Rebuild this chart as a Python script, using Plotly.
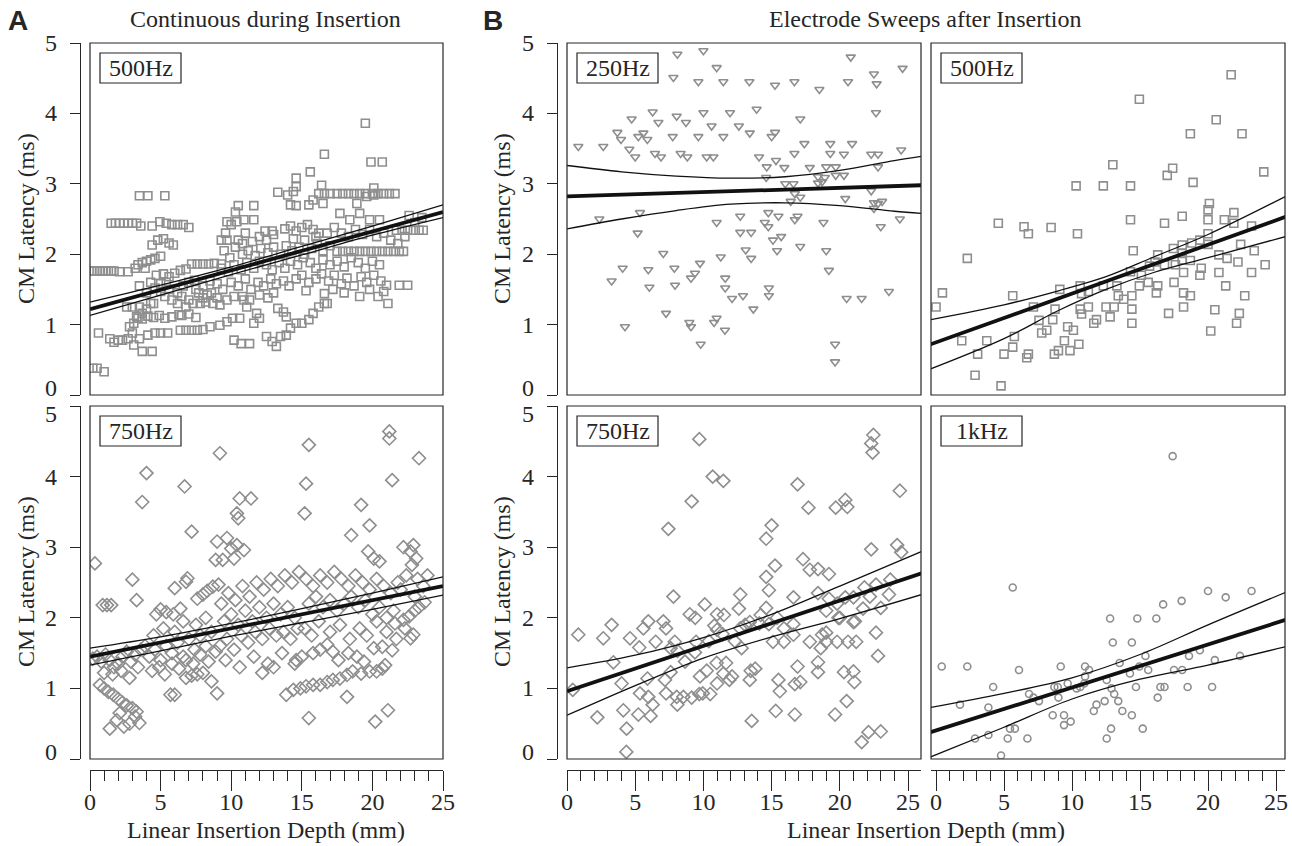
import plotly.graph_objects as go

W, H = 1292, 846

# ---------------- Data ----------------
# Panel A, 500 Hz (continuous during insertion)
a500_x = [0.1,0.3,0.5,0.7,0.9,1.1,1.3,1.5,1.7,2.1,2.7,
          0.2,0.5,1.0,
          1.5,1.8,2.1,2.4,2.7,3.0,3.3,3.6,4.4,4.95,5.4,5.8,6.2,6.6,7.0,
          3.5,4.1,5.3,4.4,4.8,5.2,5.6,5.9,
          3.2,3.4,3.7,3.9,4.0,4.3,4.6,5.0,
          7.2,7.6,8.0,8.4,8.8,9.3,4.7,5.2,5.6,6.0,6.4,6.8,5.4,5.0,
          4.6,5.0,5.6,6.2,6.6,7.0,7.4,8.0,8.5,9.0,9.4,7.7,8.3,
          7.3,7.8,8.2,8.7,6.8,9.2,6.5,7.0,7.5,8.0,8.6,9.0,
          3.3,3.7,4.1,4.5,4.9,5.3,5.8,6.3,6.5,7.0,7.5,
          6.4,6.8,7.2,7.6,8.0,8.5,9.2,9.7,10.1,10.6,11.6,12.0,11.8,
          10.2,10.7,11.3,12.5,12.9,13.2,13.5,13.9,
          14.2,14.6,15.0,15.5,15.8,16.2,16.6,13.3,13.7,13.9,16.6,16.8,
          19.1,20.4,20.8,21.1,21.0,21.9,22.5,
          0.6,1.4,1.7,2.0,2.3,2.7,3.0,3.7,4.4,3.1,3.5,4.1,4.6,5.0,5.5,
          2.8,3.1,3.4,3.7,4.0,4.3,4.5,2.6,3.0,3.5,3.5,4.0,4.3,5.3,5.8,6.2,
          19.5,16.6,19.9,20.7,15.6,14.6,14.6,14.4,13.3,14.0,14.2,14.6,
          16.2,16.6,17.0,17.5,17.9,18.3,18.7,19.1,19.5,20.0,20.4,20.8,21.2,21.6,16.4,20.1,
          15.5,15.8,16.5,10.5,11.6,10.3,10.9,11.6,9.7,10.0,10.4,
          12.4,12.9,9.6,9.3,9.7,10.5,13.8,14.2,14.6,15.0,15.4,15.8,16.2,14.4,15.2,16.0,
          17.7,18.4,19.1,19.8,20.5,18.9,19.6,20.1,
          21.7,22.1,22.5,22.9,23.3,23.6,23.0,23.5,22.6,
          17.5,17.9,18.3,18.7,19.1,19.5,19.9,20.3,20.7,21.1,21.5,21.9,22.2,
          9.5,9.9,10.3,10.8,11.2,11.7,12.1,12.6,13.0,13.5,13.9,14.3,14.8,15.2,15.7,16.1,16.5,17.0,
          9.3,9.8,10.2,10.7,11.1,11.6,12.0,12.5,12.9,13.4,13.8,14.2,14.7,15.1,15.6,16.0,16.5,17.0,17.5,18.0,18.5,19.0,19.5,20.0,20.5,
          10.0,10.5,11.0,11.4,11.9,12.3,12.8,13.2,13.7,14.1,14.6,15.0,15.5,16.0,16.4,16.9,17.3,17.8,18.2,18.7,19.2,19.6,20.1,20.6,
          10.8,11.3,12.0,12.6,13.0,15.3,17.2,18.0,19.8,9.7,10.2,10.9,11.1,
          16.8,17.3,17.8,18.3,18.8,19.3,19.8,20.3,20.8,21.3,21.8,22.3,12.0,12.5,13.0,11.0,11.5,10.8]
a500_y = [1.76,1.76,1.76,1.76,1.76,1.76,1.76,1.76,1.76,1.75,1.75,
          0.38,0.38,0.33,
          2.44,2.44,2.44,2.44,2.44,2.44,2.44,2.40,2.40,2.46,2.44,2.42,2.42,2.42,2.38,
          2.83,2.83,2.83,2.13,2.20,2.22,2.16,2.13,
          1.80,1.85,1.88,1.80,1.90,1.92,1.94,1.97,
          1.86,1.86,1.86,1.86,1.87,1.86,1.70,1.72,1.68,1.73,1.77,1.79,1.60,1.58,
          1.52,1.47,1.50,1.45,1.55,1.60,1.63,1.55,1.62,1.58,1.50,1.45,1.42,
          1.30,1.30,1.32,1.30,1.25,1.28,1.40,1.35,1.50,1.38,1.45,1.38,
          1.11,1.08,1.12,1.10,1.13,1.09,1.11,1.14,1.13,1.15,1.10,
          0.92,0.92,0.92,0.92,0.93,0.97,0.99,1.04,1.09,1.09,1.02,1.09,1.16,
          0.78,0.73,0.73,0.83,0.76,0.69,0.83,0.85,
          0.95,1.02,1.02,1.07,1.16,1.25,1.30,1.23,1.18,1.11,1.44,1.30,
          1.40,1.40,1.47,1.30,1.56,1.56,1.56,
          0.88,0.80,0.75,0.78,0.78,0.80,0.88,0.62,0.62,0.71,0.80,0.85,0.88,0.88,0.88,
          0.97,1.02,1.09,1.16,1.22,1.30,1.30,1.25,1.25,1.25,1.55,1.45,1.60,1.40,1.35,1.30,
          3.86,3.42,3.31,3.31,3.17,3.08,2.96,2.89,2.88,2.84,2.70,2.69,
          2.86,2.86,2.86,2.86,2.86,2.86,2.86,2.86,2.86,2.86,2.86,2.86,2.86,2.86,2.98,2.94,
          2.70,2.77,2.72,2.69,2.69,2.60,2.49,2.49,2.46,2.42,2.46,
          2.33,2.33,2.30,2.20,2.20,2.20,2.36,2.40,2.33,2.38,2.42,2.35,2.30,2.22,2.20,2.25,
          2.58,2.49,2.58,2.49,2.49,2.72,2.82,2.84,
          2.34,2.34,2.34,2.34,2.34,2.34,2.45,2.52,2.55,
          2.04,2.04,2.04,2.04,2.04,2.04,2.04,2.04,2.04,2.04,2.04,2.04,2.04,
          2.05,1.95,2.10,2.00,2.05,1.98,2.08,2.02,2.10,2.00,2.12,2.05,2.10,2.00,2.08,2.15,2.05,2.12,
          1.80,1.75,1.85,1.78,1.88,1.80,1.90,1.85,1.78,1.88,1.80,1.90,1.85,1.95,1.88,1.80,1.92,1.85,1.90,1.82,1.95,1.88,1.80,1.90,1.85,
          1.60,1.55,1.65,1.50,1.60,1.55,1.65,1.58,1.62,1.55,1.65,1.70,1.60,1.65,1.72,1.62,1.70,1.58,1.66,1.55,1.68,1.60,1.70,1.62,
          1.40,1.35,1.42,1.38,1.45,1.48,1.50,1.45,1.50,1.35,1.40,1.35,1.25,
          2.30,2.38,2.30,2.25,2.35,2.28,2.35,2.25,2.30,2.20,2.15,2.25,2.25,2.20,2.28,2.30,2.18,2.15]

# Panel A, 750 Hz
a750_x = [0.35,21.2,21.2,15.5,9.2,23.3,4.0,15.3,21.4,6.7,3.7,10.6,11.4,10.4,10.5,15.2,19.2,19.8,7.2,18.5,
          9.0,9.7,10.0,10.4,10.9,22.2,22.9,22.7,23.1,8.9,9.4,10.2,19.7,20.1,20.5,
          3.0,3.3,0.9,1.2,1.5,6.0,6.8,6.9,4.7,5.0,5.4,5.9,6.4,7.6,8.0,8.3,8.7,9.1,
          0.7,1.0,1.3,1.65,2.0,2.3,2.6,3.0,3.3,3.5,2.4,1.4,1.9,2.8,3.2,2.1,
          9.0,5.7,6.0,6.8,7.2,7.6,8.0,8.6,15.5,20.2,21.1,18.2,
          13.9,14.4,14.9,15.3,15.8,16.3,16.8,17.2,17.7,18.2,18.6,19.2,19.8,20.3,20.7,20.9,
          15.8,16.3,16.8,17.2,20.1,20.7,21.4,22.7,22.9,21.6,22.2,22.6,23.0,23.3,23.7,
          0.2,0.5,0.8,1.1,1.4,1.7,2.0,2.3,2.6,2.9,3.2,3.6,1.0,1.6,2.2,2.8,3.4,3.9,
          4.2,4.6,5.0,5.4,5.8,6.2,6.6,7.0,7.4,7.8,8.2,8.6,4.4,4.9,5.3,5.8,6.3,6.8,7.3,7.8,8.4,8.9,4.5,5.2,6.0,6.6,7.5,8.2,
          9.3,9.8,10.3,10.8,11.3,11.8,12.3,12.8,13.3,13.8,14.3,14.8,
          9.5,10.0,10.5,11.0,11.5,12.0,12.5,13.0,13.5,14.0,14.5,
          9.2,9.7,10.2,10.7,11.2,11.7,12.2,12.7,13.2,13.7,14.2,14.7,
          9.6,10.6,11.6,12.6,13.6,14.6,
          15.3,15.8,16.3,16.8,17.3,17.8,18.3,18.8,19.3,19.8,20.3,20.8,21.3,21.8,
          15.5,16.0,16.5,17.0,17.5,18.0,18.5,19.0,19.5,20.0,20.5,21.0,21.5,
          15.2,15.7,16.2,17.0,17.7,18.4,19.1,19.6,20.3,21.0,21.7,22.3,
          22.4,22.8,23.2,23.6,22.0,23.0,23.9,
          14.5,15.0,17.6,18.3,18.9,19.4,13.0,12.2]
a750_y = [2.77,4.64,4.54,4.45,4.33,4.26,4.05,3.90,3.95,3.86,3.64,3.69,3.69,3.48,3.41,3.48,3.60,3.31,3.22,3.17,
          3.08,3.13,2.98,3.03,2.96,3.00,3.03,2.94,2.84,2.82,2.82,2.84,2.94,2.84,2.80,
          2.54,2.25,2.18,2.18,2.18,2.42,2.51,2.56,2.05,2.12,2.08,2.05,2.13,2.27,2.33,2.38,2.44,2.47,
          1.05,1.00,0.95,0.91,0.85,0.80,0.76,0.72,0.67,0.51,0.46,0.43,0.55,0.50,0.60,0.65,
          0.93,0.91,0.91,1.15,1.18,1.20,1.22,1.10,0.58,0.53,0.69,0.88,
          0.91,0.98,1.00,1.03,1.05,1.05,1.09,1.12,1.14,1.19,1.24,1.21,1.24,1.24,1.28,1.33,
          1.50,1.55,1.62,1.52,1.57,1.59,1.54,1.71,1.76,1.92,1.97,2.02,2.10,2.15,2.22,
          1.42,1.45,1.38,1.48,1.40,1.30,1.35,1.45,1.52,1.38,1.48,1.55,1.22,1.20,1.25,1.15,1.30,1.60,
          1.45,1.55,1.40,1.60,1.50,1.65,1.45,1.70,1.55,1.75,1.60,1.80,1.25,1.30,1.20,1.35,1.28,1.40,1.35,1.48,1.38,1.52,1.75,1.85,1.80,1.95,1.90,2.00,
          2.20,2.35,2.25,2.45,2.30,2.50,2.40,2.55,2.45,2.60,2.50,2.65,
          1.95,2.05,1.90,2.10,1.95,2.15,2.00,2.20,2.05,2.15,2.00,
          1.60,1.70,1.55,1.75,1.65,1.80,1.70,1.85,1.75,1.80,1.70,1.85,
          1.40,1.30,1.45,1.35,1.50,1.40,
          2.55,2.45,2.60,2.50,2.65,2.55,2.45,2.60,2.50,2.40,2.55,2.45,2.35,2.50,
          2.20,2.30,2.15,2.25,2.10,2.20,2.30,2.15,2.25,2.05,2.15,2.00,2.10,
          1.85,1.75,1.95,1.80,1.90,1.70,1.85,1.75,1.95,1.80,1.70,1.85,
          2.60,2.75,2.55,2.45,2.40,2.30,2.60,
          1.35,1.45,1.40,1.50,1.45,1.38,1.30,1.22]

# Panel B, 250 Hz (electrode sweeps)
b250_x = [8.09,10.0,10.97,7.80,9.63,11.46,13.37,15.25,16.67,18.5,20.8,20.6,22.5,22.7,24.6,22.65,
          6.28,4.74,6.70,8.04,8.72,10.0,11.95,13.9,10.6,12.6,13.4,17.1,
          3.69,3.96,5.23,5.60,5.89,7.75,9.63,11.46,15.0,15.25,
          0.83,2.66,4.57,5.0,6.45,6.89,8.33,8.82,10.24,10.73,14.08,15.32,14.64,15.93,16.67,17.4,19.3,19.3,20.3,20.9,22.3,22.8,24.5,
          17.8,19.0,19.7,22.8,14.6,18.4,18.9,18.4,18.7,19.7,20.3,16.0,16.6,16.7,17.1,16.4,
          22.3,22.5,22.8,23.1,22.5,20.4,2.37,5.35,10.97,12.7,
          14.76,15.5,14.5,14.76,16.9,16.7,18.8,23.0,24.4,5.18,12.7,13.5,15.1,15.7,
          13.1,13.5,15.4,17.1,19.0,19.2,7.06,11.27,4.08,5.96,7.87,9.75,9.38,9.09,
          3.27,6.04,7.92,11.6,11.6,12.1,12.9,14.8,14.8,20.5,21.6,23.6,7.26,13.66,4.25,8.97,9.09,
          10.97,10.78,11.58,9.8,19.65,19.65]
b250_y = [4.84,4.89,4.65,4.51,4.45,4.45,4.45,4.40,4.45,4.34,4.80,4.45,4.56,4.42,4.64,4.01,
          4.02,3.92,3.87,3.96,3.87,4.01,4.01,4.06,3.82,3.82,3.72,3.92,
          3.73,3.63,3.67,3.72,3.63,3.67,3.67,3.67,3.67,3.73,
          3.53,3.53,3.49,3.38,3.43,3.38,3.43,3.38,3.38,3.38,3.38,3.33,3.24,3.23,3.43,3.57,3.57,3.43,3.42,3.57,3.42,3.42,3.48,
          3.23,3.24,3.24,3.24,3.09,3.10,3.09,3.01,3.03,3.12,3.12,3.0,3.0,2.86,2.81,2.75,
          2.90,2.73,2.72,2.75,2.65,2.79,2.50,2.59,2.45,2.54,
          2.59,2.54,2.45,2.39,2.54,2.49,2.45,2.39,2.50,2.30,2.31,2.31,2.20,2.25,
          2.06,1.94,2.05,2.11,2.05,1.77,2.01,1.96,1.80,1.78,1.80,1.87,1.73,1.66,
          1.62,1.53,1.56,1.66,1.52,1.37,1.41,1.52,1.41,1.37,1.37,1.47,1.16,1.22,0.97,1.03,0.97,
          1.09,1.03,0.92,0.72,0.72,0.47]

# Panel B, 500 Hz
b500_x = [21.7,14.95,20.6,18.7,22.5,13.0,24.1,17.4,17.0,18.9,10.3,12.3,14.3,
          20.1,20.0,20.0,21.9,21.9,21.2,18.1,16.8,14.3,23.2,4.58,6.47,6.79,8.46,10.4,
          2.30,0.47,0.0,5.64,14.5,20.0,19.4,20.0,22.4,23.4,20.8,21.4,22.2,24.2,23.2,
          17.45,18.1,18.8,18.1,18.1,18.7,17.6,16.8,16.3,16.1,15.7,
          18.2,19.5,19.4,20.8,21.3,22.7,22.3,22.1,20.5,20.2,
          18.2,18.7,18.2,17.1,17.5,
          14.3,15.1,15.6,14.95,16.3,16.2,14.4,13.8,14.4,14.4,13.4,13.1,12.5,12.8,13.3,12.3,
          10.6,10.7,11.2,11.2,10.6,10.7,11.8,11.6,9.1,
          7.16,8.75,8.58,7.57,7.77,8.14,9.68,10.1,9.44,10.5,9.0,8.7,9.85,
          5.76,5.64,6.79,6.67,5.0,3.73,3.06,1.89,2.87,4.78]
b500_y = [4.55,4.20,3.91,3.71,3.71,3.27,3.17,3.22,3.12,3.02,2.97,2.97,2.97,
          2.72,2.63,2.49,2.59,2.44,2.49,2.54,2.44,2.49,2.40,2.44,2.39,2.29,2.38,2.29,
          1.94,1.45,1.25,1.41,2.05,2.29,2.20,2.14,2.14,2.05,1.99,1.94,1.89,1.85,1.74,
          2.08,2.13,2.16,2.01,1.92,1.91,1.85,1.85,1.99,1.89,1.83,
          1.74,1.80,1.70,1.74,1.55,1.41,1.16,1.02,1.21,0.91,
          1.45,1.41,1.25,1.16,1.60,
          1.75,1.70,1.60,1.55,1.55,1.45,1.41,1.36,1.22,1.02,1.41,1.25,1.25,1.11,1.55,1.55,
          1.55,1.44,1.47,1.25,1.22,1.15,1.07,1.02,1.50,
          1.25,1.22,1.07,1.06,0.88,0.92,0.97,0.92,0.77,0.72,0.63,0.58,0.63,
          0.83,0.68,0.58,0.53,0.58,0.77,0.58,0.77,0.28,0.13]

# Panel B, 750 Hz
b750_x = [9.70,22.46,22.3,22.4,10.68,11.46,16.9,24.4,9.14,17.7,19.7,20.4,20.55,7.43,15.0,14.6,
          22.3,24.2,24.5,17.3,17.8,18.4,19.2,15.25,14.6,14.8,7.8,10.1,12.7,12.6,
          9.0,9.4,11.0,11.5,14.6,14.2,16.6,18.4,21.8,22.65,23.7,23.6,22.2,23.0,
          20.4,21.0,19.2,19.8,19.0,20.0,21.0,21.7,
          0.83,2.66,3.27,4.62,5.6,5.96,7.06,7.26,6.5,
          7.9,7.6,8.1,9.46,10.4,11.0,10.8,11.4,12.7,13.05,13.4,12.8,12.3,14.1,14.8,15.4,15.9,15.1,
          16.6,16.6,15.9,17.8,18.7,19.0,18.6,19.8,20.6,21.2,21.1,19.9,
          0.42,3.4,4.0,5.3,5.9,5.35,5.96,6.28,6.13,5.23,4.37,4.35,4.13,2.22,
          7.18,7.6,7.26,8.04,8.09,8.53,9.14,9.7,9.95,10.5,8.65,9.38,
          10.24,9.75,10.97,11.66,11.46,11.9,11.0,12.1,13.47,13.8,13.4,15.5,15.6,16.7,17.1,16.9,15.3,16.7,13.54,
          18.4,18.4,19.0,20.3,21.0,21.07,20.5,19.65,21.6,22.1,23.0,22.8,22.65]
b750_y = [4.53,4.59,4.47,4.34,4.00,3.94,3.89,3.80,3.65,3.56,3.56,3.67,3.57,3.26,3.31,3.12,
          2.97,3.03,2.93,2.83,2.68,2.69,2.62,2.74,2.58,2.39,2.30,2.19,2.33,2.13,
          2.05,2.00,2.05,2.04,2.14,2.04,2.29,2.35,2.43,2.47,2.54,2.33,2.30,2.14,
          2.29,2.29,2.27,2.20,2.10,2.00,1.94,2.13,
          1.76,1.71,1.90,1.71,1.85,1.95,1.95,1.85,1.66,
          1.66,1.57,1.53,1.66,1.67,1.83,1.89,1.77,1.85,1.90,1.94,1.57,1.67,1.92,1.91,2.00,1.85,1.66,
          1.76,1.91,1.66,1.66,1.76,1.66,1.57,1.66,1.66,1.66,1.95,2.00,
          0.98,1.37,1.07,1.58,1.14,0.93,0.88,0.77,0.61,0.63,0.43,0.10,0.69,0.59,
          1.12,1.23,0.93,0.88,0.77,0.88,0.87,0.92,0.93,0.92,1.38,1.51,
          1.25,1.17,1.36,1.36,1.21,1.12,1.07,1.17,1.25,1.28,1.12,1.12,0.96,1.06,1.09,1.31,0.68,0.63,0.54,
          1.37,1.23,1.79,1.23,1.24,1.09,0.82,0.63,0.24,0.38,0.39,1.46,1.79]

# Panel B, 1 kHz
b1k_x = [17.4,5.64,20.0,21.3,23.2,18.06,16.7,12.8,14.8,16.2,13.0,14.4,
         0.42,2.3,6.1,9.17,10.96,11.25,13.5,15.4,14.95,14.26,15.6,
         18.6,19.4,20.5,22.35,17.5,18.1,
         12.55,10.96,10.6,10.9,9.68,8.95,8.7,9.0,10.34,
         12.9,13.1,13.4,12.4,11.8,11.6,13.7,14.4,
         14.7,16.5,16.8,18.5,20.3,16.3,
         4.2,6.84,7.16,7.57,3.85,1.76,
         8.58,9.41,9.41,9.9,
         5.44,5.8,3.85,2.87,5.27,6.72,4.78,
         12.87,12.55,15.2]
b1k_y = [4.29,2.43,2.38,2.29,2.38,2.24,2.19,1.99,1.99,1.99,1.65,1.65,
         1.31,1.31,1.26,1.31,1.31,1.26,1.36,1.46,1.31,1.21,1.26,
         1.46,1.54,1.40,1.46,1.26,1.26,
         1.12,1.17,1.02,1.07,1.07,1.02,1.02,0.87,1.00,
         1.00,0.92,0.82,0.82,0.77,0.68,0.68,0.62,
         1.02,1.02,1.02,1.02,1.02,0.87,
         1.02,0.92,0.87,0.82,0.73,0.77,
         0.62,0.62,0.48,0.53,
         0.43,0.43,0.34,0.29,0.29,0.29,0.05,
         0.43,0.29,0.43]

# Regression lines and confidence bands
a500_fit_x = [0, 25];        a500_fit_y = [1.22, 2.60]
a500_ci_x = [0, 5, 10, 15, 20, 25]
a500_ci_hi = [1.32, 1.56, 1.82, 2.11, 2.40, 2.70]
a500_ci_lo = [1.13, 1.42, 1.71, 1.99, 2.27, 2.52]

a750_fit_x = [0, 25];        a750_fit_y = [1.45, 2.45]
a750_ci_x = [0, 5, 10, 15, 20, 25]
a750_ci_hi = [1.57, 1.73, 1.92, 2.13, 2.35, 2.58]
a750_ci_lo = [1.33, 1.53, 1.74, 1.93, 2.12, 2.32]

b250_fit_x = [0, 26];        b250_fit_y = [2.82, 2.98]
b250_ci_x = [0, 4, 8, 12, 16, 20, 24, 26]
b250_ci_hi = [3.26, 3.17, 3.11, 3.08, 3.10, 3.19, 3.33, 3.39]
b250_ci_lo = [2.36, 2.50, 2.62, 2.71, 2.73, 2.69, 2.61, 2.58]

b500_fit_x = [-0.4, 25.7];   b500_fit_y = [0.72, 2.53]
b500_ci_x = [-0.4, 5, 9, 12.5, 16, 20, 25.7]
b500_ci_hi = [1.07, 1.28, 1.48, 1.68, 1.96, 2.28, 2.82]
b500_ci_lo = [0.37, 0.80, 1.20, 1.50, 1.74, 1.95, 2.25]

b750_fit_x = [0, 26];        b750_fit_y = [0.96, 2.63]
b750_ci_x = [0, 5, 10, 15, 20, 26]
b750_ci_hi = [1.29, 1.47, 1.72, 2.05, 2.45, 2.94]
b750_ci_lo = [0.62, 1.04, 1.43, 1.73, 1.99, 2.33]

b1k_fit_x = [-0.4, 25.7];    b1k_fit_y = [0.38, 1.97]
b1k_ci_x = [-0.4, 5, 10, 15, 20, 25.7]
b1k_ci_hi = [0.73, 0.93, 1.15, 1.48, 1.90, 2.36]
b1k_ci_lo = [0.03, 0.45, 0.85, 1.13, 1.33, 1.59]

panel_labels = ["500Hz", "750Hz", "250Hz", "500Hz", "750Hz", "1kHz"]
y_ticks = [0, 1, 2, 3, 4, 5]
x_ticks = [0, 5, 10, 15, 20, 25]

# ---------------- Styling / layout ----------------
GREY = "#8e8e8e"
INK = "#262626"
SERIF = "Liberation Serif, Times New Roman, serif"


def fx(p):
    return p / W


def fy(p):
    return 1 - p / H


panels = [
    dict(x=a500_x, y=a500_y, sym="square-open", size=8,
         fx_=a500_fit_x, fy_=a500_fit_y, cx=a500_ci_x, chi=a500_ci_hi, clo=a500_ci_lo,
         px=(90, 443), py=(43, 395), xr=[0, 25], yax=80, lblx=59, top=True, xaxis_show=False),
    dict(x=a750_x, y=a750_y, sym="diamond-open", size=10,
         fx_=a750_fit_x, fy_=a750_fit_y, cx=a750_ci_x, chi=a750_ci_hi, clo=a750_ci_lo,
         px=(90, 443), py=(406, 759), xr=[0, 25], yax=80, lblx=59, top=False, xaxis_show=True),
    dict(x=b250_x, y=b250_y, sym="triangle-down-open", size=8,
         fx_=b250_fit_x, fy_=b250_fit_y, cx=b250_ci_x, chi=b250_ci_hi, clo=b250_ci_lo,
         px=(567, 921), py=(43, 395), xr=[0, 25.95], yax=557, lblx=536, top=True, xaxis_show=False),
    dict(x=b500_x, y=b500_y, sym="square-open", size=8,
         fx_=b500_fit_x, fy_=b500_fit_y, cx=b500_ci_x, chi=b500_ci_hi, clo=b500_ci_lo,
         px=(931, 1285), py=(43, 395), xr=[-0.37, 25.66], yax=None, lblx=None, top=True, xaxis_show=False),
    dict(x=b750_x, y=b750_y, sym="diamond-open", size=10,
         fx_=b750_fit_x, fy_=b750_fit_y, cx=b750_ci_x, chi=b750_ci_hi, clo=b750_ci_lo,
         px=(567, 921), py=(406, 759), xr=[0, 25.95], yax=557, lblx=536, top=False, xaxis_show=True),
    dict(x=b1k_x, y=b1k_y, sym="circle-open", size=7,
         fx_=b1k_fit_x, fy_=b1k_fit_y, cx=b1k_ci_x, chi=b1k_ci_hi, clo=b1k_ci_lo,
         px=(931, 1285), py=(406, 759), xr=[-0.37, 25.66], yax=None, lblx=None, top=False, xaxis_show=True),
]

fig = go.Figure()
layout = dict(
    width=W, height=H, margin=dict(l=0, r=0, t=0, b=0, pad=0, autoexpand=False),
    paper_bgcolor="white", plot_bgcolor="white", showlegend=False,
    font=dict(family=SERIF, size=24, color=INK),
)
shapes = []
annotations = []

for i, p in enumerate(panels, start=1):
    xa = "x" if i == 1 else f"x{i}"
    ya = "y" if i == 1 else f"y{i}"
    n = min(len(p["x"]), len(p["y"]))
    if len(p["x"]) != len(p["y"]):
        print("length mismatch in panel", i, len(p["x"]), len(p["y"]))
    fig.add_trace(go.Scatter(
        x=p["x"][:n], y=p["y"][:n], mode="markers", xaxis=xa, yaxis=ya,
        marker=dict(symbol=p["sym"], size=p["size"], color=GREY,
                    line=dict(color=GREY, width=1.6)),
        hoverinfo="skip"))
    for ys in (p["chi"], p["clo"]):
        fig.add_trace(go.Scatter(
            x=p["cx"], y=ys, mode="lines", xaxis=xa, yaxis=ya,
            line=dict(color="#111111", width=1.3, shape="spline", smoothing=1.0),
            hoverinfo="skip"))
    fig.add_trace(go.Scatter(
        x=p["fx_"], y=p["fy_"], mode="lines", xaxis=xa, yaxis=ya,
        line=dict(color="#111111", width=3.8), hoverinfo="skip"))

    x0, x1 = p["px"]
    y0, y1 = p["py"]
    xkey = "xaxis" if i == 1 else f"xaxis{i}"
    ykey = "yaxis" if i == 1 else f"yaxis{i}"

    xdict = dict(domain=[fx(x0), fx(x1)], range=p["xr"], showgrid=False,
                 zeroline=False, fixedrange=True, automargin=False)
    if p["xaxis_show"]:
        xdict.update(anchor="free", position=fy(770), showline=True,
                     linecolor=INK, linewidth=1.2, ticks="outside", ticklen=20,
                     tickwidth=1.2, tickcolor=INK, tickvals=x_ticks,
                     ticklabelstandoff=-10,
                     tickfont=dict(family=SERIF, size=24, color=INK),
                     minor=dict(dtick=1, tick0=0, ticklen=10, tickwidth=1.2,
                                tickcolor=INK, ticks="outside", showgrid=False))
    else:
        xdict.update(anchor=ya, showline=False, ticks="", showticklabels=False)
    layout[xkey] = xdict

    ydict = dict(domain=[fy(y1), fy(y0)], range=[0, 5], showgrid=False,
                 zeroline=False, fixedrange=True, automargin=False)
    if p["yax"] is not None:
        ydict.update(anchor="free", position=fx(p["yax"]), showline=True,
                     linecolor=INK, linewidth=1.2, ticks="outside", ticklen=10,
                     tickwidth=1.2, tickcolor=INK, tickvals=y_ticks,
                     showticklabels=False)
        # tick labels as text next to the ticks (end labels nudged as in the reference)
        for v in y_ticks:
            shift = 0
            if v == 0:
                shift = 7
            elif v == 5 and not p["top"]:
                shift = -8
            annotations.append(dict(text=str(v), xref="paper", yref=ya,
                                    x=fx(p["lblx"]), y=v, yshift=shift,
                                    xanchor="right", yanchor="middle",
                                    showarrow=False,
                                    font=dict(family=SERIF, size=24, color=INK)))
    else:
        ydict.update(anchor=xa, showline=False, ticks="", showticklabels=False)
    layout[ykey] = ydict

    # frame
    shapes.append(dict(type="rect", xref="paper", yref="paper",
                       x0=fx(x0), x1=fx(x1), y0=fy(y1), y1=fy(y0),
                       line=dict(color=INK, width=1.2), fillcolor="rgba(0,0,0,0)",
                       layer="above"))
    # label box
    bx0, by0 = x0 + 10, y0 + 10
    shapes.append(dict(type="rect", xref="paper", yref="paper",
                       x0=fx(bx0), x1=fx(bx0 + 81), y0=fy(by0 + 30), y1=fy(by0),
                       line=dict(color=INK, width=1.2), fillcolor="white",
                       layer="above"))
    annotations.append(dict(text=panel_labels[i - 1], xref="paper", yref="paper",
                            x=fx(bx0 + 40.5), y=fy(by0 + 15), xanchor="center",
                            yanchor="middle", showarrow=False,
                            font=dict(family=SERIF, size=24, color=INK)))


def ann(text, x, y, size=24, angle=0, family=SERIF, bold=False):
    t = f"<b>{text}</b>" if bold else text
    annotations.append(dict(text=t, xref="paper", yref="paper", x=fx(x), y=fy(y),
                            xanchor="center", yanchor="middle", showarrow=False,
                            textangle=angle, font=dict(family=family, size=size, color=INK)))


ann("Continuous during Insertion", 265, 19)
ann("Electrode Sweeps after Insertion", 926, 19)
ann("Linear Insertion Depth (mm)", 266, 830)
ann("Linear Insertion Depth (mm)", 926, 830)
for cx in (26, 502):
    ann("CM Latency (ms)", cx, 219, angle=-90)
    ann("CM Latency (ms)", cx, 582, angle=-90)
ann("A", 18, 21, size=28, family="Liberation Sans, Arial, sans-serif", bold=True)
ann("B", 493, 21, size=28, family="Liberation Sans, Arial, sans-serif", bold=True)

layout["shapes"] = shapes
layout["annotations"] = annotations
fig.update_layout(**layout)
fig.write_html(
    "out.html",
    config={"displayModeBar": False},
    post_script=("document.body.style.margin='0px';"
                 "document.body.style.padding='0px';"
                 "document.documentElement.style.overflow='hidden';"),
)
